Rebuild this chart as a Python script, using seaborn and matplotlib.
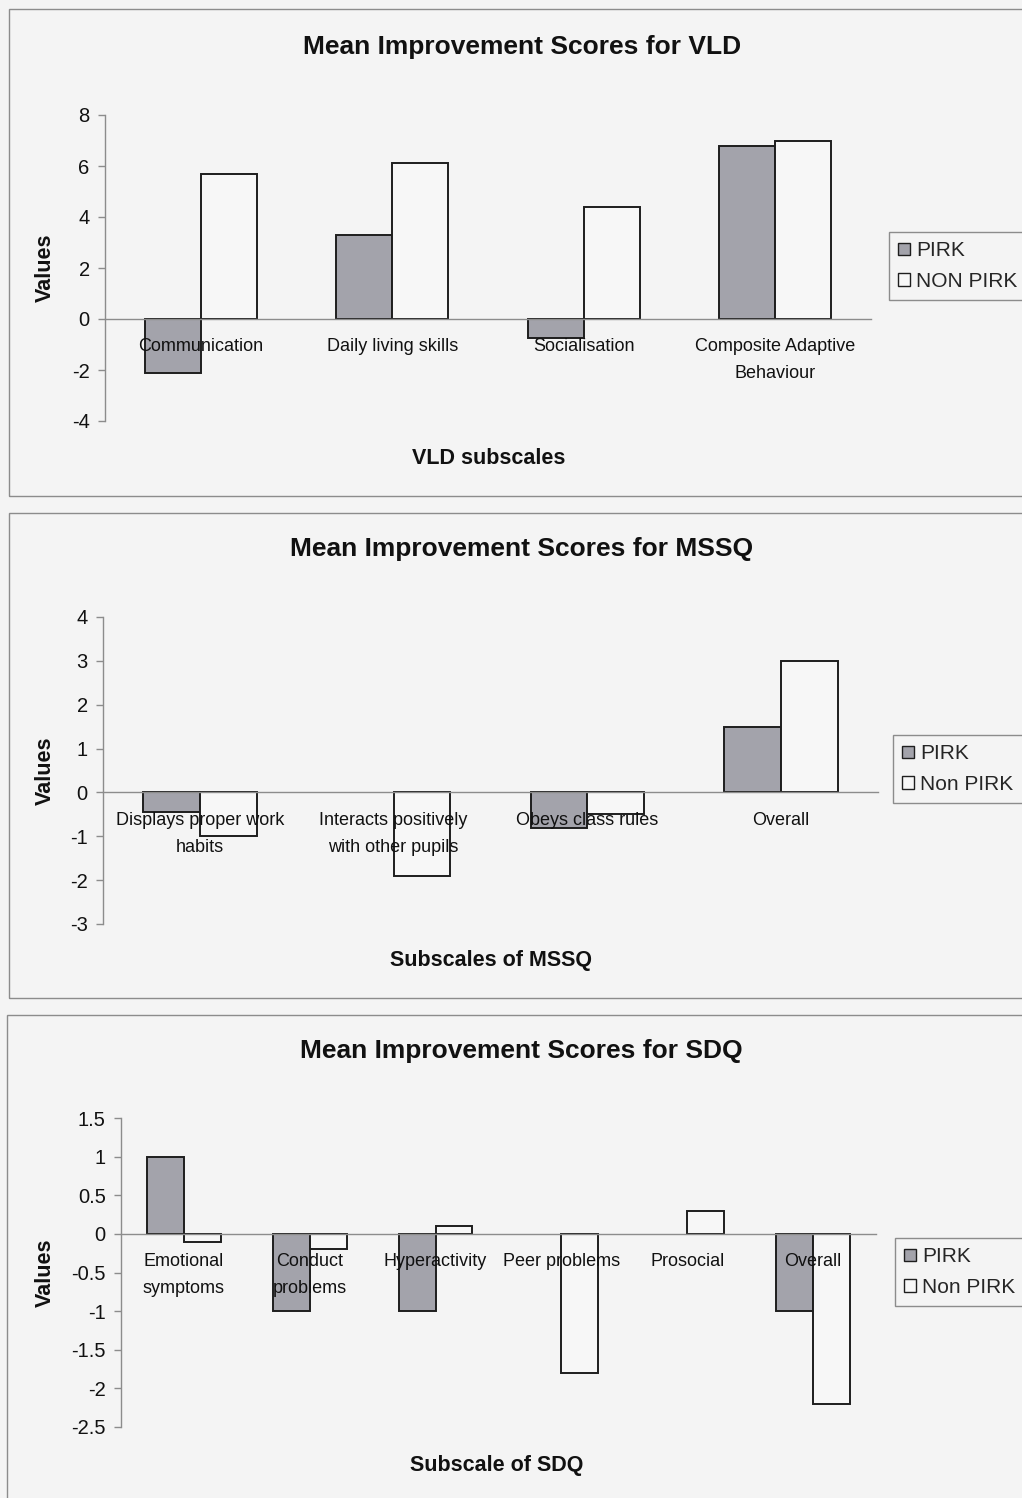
import matplotlib
matplotlib.use("Agg")
import matplotlib.pyplot as plt
from matplotlib.patches import Rectangle
from matplotlib.ticker import FuncFormatter
import numpy as np
import pandas as pd
import seaborn as sns

# ---- data -------------------------------------------------------------
vld_categories = ["Communication", "Daily living skills", "Socialisation",
                  "Composite Adaptive\nBehaviour"]
vld_pirk = [-2.1, 3.3, -0.75, 6.8]
vld_non_pirk = [5.7, 6.1, 4.4, 7.0]

mssq_categories = ["Displays proper work\nhabits", "Interacts positively\nwith other pupils",
                   "Obeys class rules", "Overall"]
mssq_pirk = [-0.45, 0.0, -0.8, 1.5]
mssq_non_pirk = [-1.0, -1.9, -0.5, 3.0]

sdq_categories = ["Emotional\nsymptoms", "Conduct\nproblems", "Hyperactivity",
                  "Peer problems", "Prosocial", "Overall"]
sdq_pirk = [1.0, -1.0, -1.0, 0.0, 0.0, -1.0]
sdq_non_pirk = [-0.1, -0.2, 0.1, -1.8, 0.3, -2.2]

# ---- style ------------------------------------------------------------
sns.set_theme(style="white")
plt.rcParams['font.family'] = ['Liberation Sans', 'DejaVu Sans']
plt.rcParams['axes.unicode_minus'] = False

W, H, DPI = 1022, 1498, 100
BG = "#f4f4f4"
PIRK_C = "#a3a3ab"
NON_C = "#f7f7f7"
EDGE = "#1e1e1e"
AXIS_C = "#8c8c8c"

panels = [
    dict(title="Mean Improvement Scores for VLD", xlabel="VLD subscales",
         cats=vld_categories, pirk=vld_pirk, non=vld_non_pirk,
         groups=("PIRK", "NON PIRK"), ylim=(-4, 8), step=2,
         axes=(105, 115, 871, 421), title_xy=(522, 47), xlabel_xy=(489, 459),
         ylabel_x=45, legend_xy=(889, 232), frame=(9, 9, 1040, 496)),
    dict(title="Mean Improvement Scores for MSSQ", xlabel="Subscales of MSSQ",
         cats=mssq_categories, pirk=mssq_pirk, non=mssq_non_pirk,
         groups=("PIRK", "Non PIRK"), ylim=(-3, 4), step=1,
         axes=(103, 617, 878, 924), title_xy=(522, 549), xlabel_xy=(491, 961),
         ylabel_x=45, legend_xy=(893, 735), frame=(9, 513, 1040, 998)),
    dict(title="Mean Improvement Scores for SDQ", xlabel="Subscale of SDQ",
         cats=sdq_categories, pirk=sdq_pirk, non=sdq_non_pirk,
         groups=("PIRK", "Non PIRK"), ylim=(-2.5, 1.5), step=0.5,
         axes=(121, 1118, 876, 1427), title_xy=(521, 1051), xlabel_xy=(497, 1465),
         ylabel_x=45, legend_xy=(895, 1238), frame=(7, 1015, 1040, 1510)),
]

fig = plt.figure(figsize=(W / DPI, H / DPI), dpi=DPI, facecolor=BG)


def fig_rect(l, t, r, b):
    return [l / W, 1 - b / H, (r - l) / W, (b - t) / H]


for p in panels:
    # chart-area border
    fl, ft, fr, fb = p["frame"]
    fig.patches.append(Rectangle((fl / W, 1 - fb / H), (fr - fl) / W, (fb - ft) / H,
                                 transform=fig.transFigure, fill=False,
                                 edgecolor=AXIS_C, linewidth=1.0))

    l, t, r, b = p["axes"]
    ax = fig.add_axes(fig_rect(l, t, r, b))
    ax.set_facecolor("none")

    n = len(p["cats"])
    df = pd.DataFrame({
        "Subscale": list(p["cats"]) * 2,
        "Group": [p["groups"][0]] * n + [p["groups"][1]] * n,
        "Score": list(p["pirk"]) + list(p["non"]),
    })
    sns.barplot(data=df, x="Subscale", y="Score", hue="Group",
                palette=[PIRK_C, NON_C], width=0.585, saturation=1,
                edgecolor=EDGE, linewidth=1.4, errorbar=None, ax=ax)

    # zero-valued bars leave no outline on the axis
    for bar in ax.patches:
        if bar.get_height() == 0:
            bar.set_linewidth(0)

    # category names are written over the bars
    ax.set_axisbelow(False)

    lo, hi = p["ylim"]
    ax.set_ylim(lo, hi)
    ax.set_yticks(np.arange(lo, hi + p["step"] / 2, p["step"]))
    ax.yaxis.set_major_formatter(FuncFormatter(lambda v, _: f"{v:g}"))
    ax.set_xlim(-0.5, n - 0.5)

    # category axis crosses at zero
    for side in ("top", "right"):
        ax.spines[side].set_visible(False)
    ax.spines["bottom"].set_position(("data", 0))
    for side in ("bottom", "left"):
        ax.spines[side].set_color(AXIS_C)
        ax.spines[side].set_linewidth(1.0)

    ax.set_xticks(np.arange(n + 1) - 0.5)
    ax.set_xticklabels([])
    ax.set_xticks(np.arange(n), p["cats"], minor=True)
    ax.tick_params(axis="x", which="major", length=5, width=1, color=AXIS_C,
                   direction="out")
    ax.tick_params(axis="x", which="minor", length=0, pad=14, labelsize=13,
                   labelcolor="#111111")
    for lab in ax.get_xticklabels(minor=True):
        lab.set_linespacing(1.75)
    ax.tick_params(axis="y", length=5, width=1, color=AXIS_C, direction="out",
                   left=True, pad=6, labelsize=14.5, labelcolor="#111111")

    # axis titles
    ax.set_xlabel(p["xlabel"], fontsize=15.5, fontweight="bold", color="#111111")
    xl_x, xl_y = p["xlabel_xy"]
    ax.xaxis.set_label_coords((xl_x - l) / (r - l), (b - xl_y) / (b - t))
    ax.xaxis.label.set_va("center")
    ax.set_ylabel("Values", fontsize=15.5, fontweight="bold", color="#111111")
    ax.yaxis.set_label_coords((p["ylabel_x"] - l) / (r - l), 0.5)
    ax.yaxis.label.set_va("center")

    # legend
    handles, labels = ax.get_legend_handles_labels()
    if ax.get_legend() is not None:
        ax.get_legend().remove()
    lx, ly = p["legend_xy"]
    leg = ax.legend(handles, labels, loc="upper left",
                    bbox_to_anchor=(lx / W, 1 - ly / H), bbox_transform=fig.transFigure,
                    fontsize=15, frameon=True, fancybox=False, framealpha=1,
                    facecolor=BG, edgecolor=AXIS_C, handlelength=0.55,
                    handleheight=0.55, handletextpad=0.3, labelspacing=0.55,
                    borderpad=0.45, borderaxespad=0)
    leg.get_frame().set_linewidth(1.0)
    for h in leg.legend_handles:
        h.set_edgecolor(EDGE)
        h.set_linewidth(1.0)

    tx, ty = p["title_xy"]
    fig.text(tx / W, 1 - ty / H, p["title"], ha="center", va="center",
             fontsize=19, fontweight="bold", color="#111111")

fig.savefig("out.png", dpi=DPI, facecolor=BG)
